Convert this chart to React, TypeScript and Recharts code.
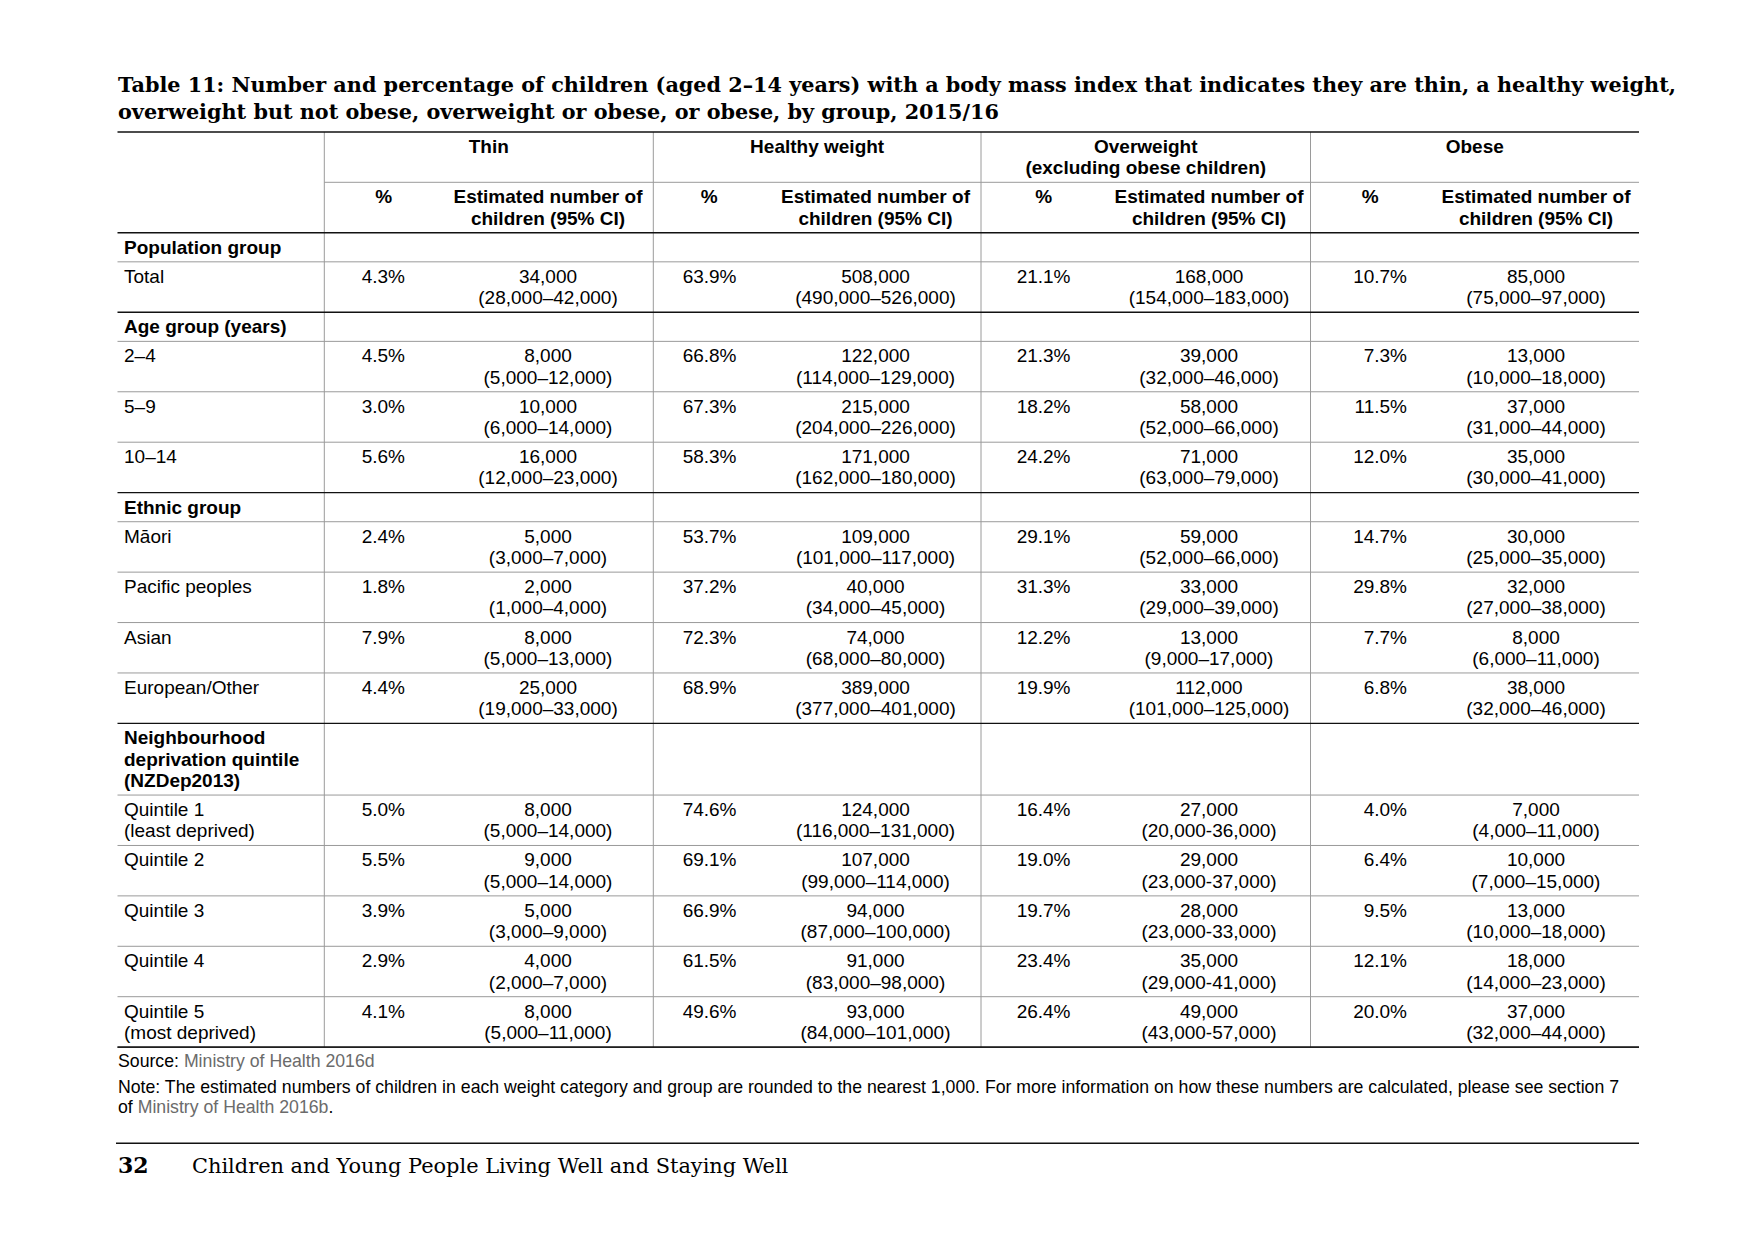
import React from 'react';
import { Surface, Layer } from 'recharts';

// ---------- data ----------
const titleLines = [
  'Table 11: Number and percentage of children (aged 2–14 years) with a body mass index that indicates they are thin, a healthy weight,',
  'overweight but not obese, overweight or obese, or obese, by group, 2015/16',
];
const groupLabels = [['Thin'], ['Healthy weight'], ['Overweight', '(excluding obese children)'], ['Obese']];
const subHeaders = [['%'], ['Estimated number of', 'children (95% CI)']];

const sections = [
  { label: ['Population group'], rows: ['Total'] },
  { label: ['Age group (years)'], rows: ['2–4', '5–9', '10–14'] },
  { label: ['Ethnic group'], rows: ['Māori', 'Pacific peoples', 'Asian', 'European/Other'] },
  {
    label: ['Neighbourhood', 'deprivation quintile', '(NZDep2013)'],
    rows: ['Quintile 1\n(least deprived)', 'Quintile 2', 'Quintile 3', 'Quintile 4', 'Quintile 5\n(most deprived)'],
  },
];

const thinPct = ['4.3%', '4.5%', '3.0%', '5.6%', '2.4%', '1.8%', '7.9%', '4.4%', '5.0%', '5.5%', '3.9%', '2.9%', '4.1%'];
const thinNum = ['34,000', '8,000', '10,000', '16,000', '5,000', '2,000', '8,000', '25,000', '8,000', '9,000', '5,000', '4,000', '8,000'];
const thinCI = ['(28,000–42,000)', '(5,000–12,000)', '(6,000–14,000)', '(12,000–23,000)', '(3,000–7,000)', '(1,000–4,000)', '(5,000–13,000)', '(19,000–33,000)', '(5,000–14,000)', '(5,000–14,000)', '(3,000–9,000)', '(2,000–7,000)', '(5,000–11,000)'];

const healthyPct = ['63.9%', '66.8%', '67.3%', '58.3%', '53.7%', '37.2%', '72.3%', '68.9%', '74.6%', '69.1%', '66.9%', '61.5%', '49.6%'];
const healthyNum = ['508,000', '122,000', '215,000', '171,000', '109,000', '40,000', '74,000', '389,000', '124,000', '107,000', '94,000', '91,000', '93,000'];
const healthyCI = ['(490,000–526,000)', '(114,000–129,000)', '(204,000–226,000)', '(162,000–180,000)', '(101,000–117,000)', '(34,000–45,000)', '(68,000–80,000)', '(377,000–401,000)', '(116,000–131,000)', '(99,000–114,000)', '(87,000–100,000)', '(83,000–98,000)', '(84,000–101,000)'];

const overPct = ['21.1%', '21.3%', '18.2%', '24.2%', '29.1%', '31.3%', '12.2%', '19.9%', '16.4%', '19.0%', '19.7%', '23.4%', '26.4%'];
const overNum = ['168,000', '39,000', '58,000', '71,000', '59,000', '33,000', '13,000', '112,000', '27,000', '29,000', '28,000', '35,000', '49,000'];
const overCI = ['(154,000–183,000)', '(32,000–46,000)', '(52,000–66,000)', '(63,000–79,000)', '(52,000–66,000)', '(29,000–39,000)', '(9,000–17,000)', '(101,000–125,000)', '(20,000-36,000)', '(23,000-37,000)', '(23,000-33,000)', '(29,000-41,000)', '(43,000-57,000)'];

const obesePct = ['10.7%', '7.3%', '11.5%', '12.0%', '14.7%', '29.8%', '7.7%', '6.8%', '4.0%', '6.4%', '9.5%', '12.1%', '20.0%'];
const obeseNum = ['85,000', '13,000', '37,000', '35,000', '30,000', '32,000', '8,000', '38,000', '7,000', '10,000', '13,000', '18,000', '37,000'];
const obeseCI = ['(75,000–97,000)', '(10,000–18,000)', '(31,000–44,000)', '(30,000–41,000)', '(25,000–35,000)', '(27,000–38,000)', '(6,000–11,000)', '(32,000–46,000)', '(4,000–11,000)', '(7,000–15,000)', '(10,000–18,000)', '(14,000–23,000)', '(32,000–44,000)'];

const sourceLabel = 'Source: ';
const sourceRef = 'Ministry of Health 2016d';
const noteLine1 = 'Note: The estimated numbers of children in each weight category and group are rounded to the nearest 1,000. For more information on how these numbers are calculated, please see section 7';
const noteLine2Ref = 'Ministry of Health 2016b';
const pageNumber = '32';
const pageTitle = 'Children and Young People Living Well and Staying Well';

// ---------- layout ----------
const W = 1754;
const H = 1241;
const LEFT = 117.5;
const RIGHT = 1639;
const GROUP_X = [324.3, 653.3, 981, 1310.5];
const PCT_RIGHT = [405, 736.5, 1070.5, 1407];
const PCT_HEAD = [383.7, 709.2, 1043.7, 1370.3];
const NUM_CENTER = [548, 875.5, 1209, 1536];
const TOP = 132;
const SUB_Y = 182.3;
const HEAD_BOTTOM = 232.7;
const ROW_A = 7.85;
const ROW_B = 21.28;
const FIRST_BASE = 21;
const SANS = '"Liberation Sans", Arial, sans-serif';
const SERIF = '"DejaVu Serif", serif';
const FS = 19;
const GRID = '#9a9a9a';
const DARK = '#111';

const series = [
  [thinPct, thinNum, thinCI],
  [healthyPct, healthyNum, healthyCI],
  [overPct, overNum, overCI],
  [obesePct, obeseNum, obeseCI],
];

type TProps = { x: number; y: number; anchor?: 'start' | 'middle' | 'end'; bold?: boolean; children: React.ReactNode; size?: number; fill?: string; family?: string };
const T = ({ x, y, anchor = 'start', bold = false, children, size = FS, fill = '#000', family = SANS }: TProps) => (
  <text x={x} y={y} textAnchor={anchor} fontFamily={family} fontSize={size} fontWeight={bold ? 700 : 400} fill={fill}>
    {children}
  </text>
);

const HLine = ({ y, x1 = LEFT, x2 = RIGHT, dark = false }: { y: number; x1?: number; x2?: number; dark?: boolean }) => (
  <line x1={x1} x2={x2} y1={y} y2={y} stroke={dark ? DARK : GRID} strokeWidth={dark ? 1.4 : 1} />
);

function buildRows() {
  const out: React.ReactNode[] = [];
  let y = HEAD_BOTTOM;
  let idx = 0;
  sections.forEach((sec, si) => {
    const h = ROW_A + ROW_B * sec.label.length;
    sec.label.forEach((l, li) => (
      out.push(<T key={`s${si}-${li}`} x={124} y={y + FIRST_BASE + li * ROW_B} bold>{l}</T>)
    ));
    y += h;
    out.push(<HLine key={`sl${si}`} y={y} />);
    sec.rows.forEach((r, ri) => {
      const labelLines = r.split('\n');
      const rh = ROW_A + ROW_B * 2;
      labelLines.forEach((l, li) => out.push(
        <T key={`r${idx}-${li}`} x={124} y={y + FIRST_BASE + li * ROW_B}>{l}</T>
      ));
      series.forEach(([pct, num, ci], gi) => {
        out.push(<T key={`p${idx}-${gi}`} x={PCT_RIGHT[gi]} y={y + FIRST_BASE} anchor="end">{pct[idx]}</T>);
        out.push(<T key={`n${idx}-${gi}`} x={NUM_CENTER[gi]} y={y + FIRST_BASE} anchor="middle">{num[idx]}</T>);
        out.push(<T key={`c${idx}-${gi}`} x={NUM_CENTER[gi]} y={y + FIRST_BASE + ROW_B} anchor="middle">{ci[idx]}</T>);
      });
      y += rh;
      const lastInSection = ri === sec.rows.length - 1;
      out.push(<HLine key={`rl${idx}`} y={y} dark={lastInSection} />);
      idx += 1;
    });
  });
  return { nodes: out, bottom: y };
}

export default function App() {
  const { nodes, bottom } = buildRows();
  return (
    <div style={{ position: 'absolute', left: 0, top: 0, width: W, height: H, background: '#fff' }}>
      <Surface width={W} height={H}>
        <Layer>
          <rect x={0} y={0} width={W} height={H} fill="#fff" />
          {titleLines.map((t, i) => (
            <T key={`t${i}`} x={118} y={91.5 + i * 27} bold size={20.75} family={SERIF}>{t}</T>
          ))}
          {/* vertical group dividers */}
          {GROUP_X.map((x, i) => (
            <line key={`v${i}`} x1={x} x2={x} y1={TOP} y2={bottom} stroke={GRID} strokeWidth={1} />
          ))}
          {/* header */}
          {groupLabels.map((g, gi) => {
            const x0 = GROUP_X[gi];
            const x1 = gi < 3 ? GROUP_X[gi + 1] : RIGHT;
            return g.map((l, li) => (
              <T key={`g${gi}-${li}`} x={(x0 + x1) / 2} y={TOP + FIRST_BASE + li * ROW_B} anchor="middle" bold>{l}</T>
            ));
          })}
          <HLine y={SUB_Y} x1={GROUP_X[0]} />
          {GROUP_X.map((_, gi) => (
            <Layer key={`sh${gi}`}>
              <T x={PCT_HEAD[gi]} y={SUB_Y + FIRST_BASE} anchor="middle" bold>{subHeaders[0][0]}</T>
              {subHeaders[1].map((l, li) => (
                <T key={li} x={NUM_CENTER[gi]} y={SUB_Y + FIRST_BASE + li * ROW_B} anchor="middle" bold>{l}</T>
              ))}
            </Layer>
          ))}
          <HLine y={TOP} dark />
          <HLine y={HEAD_BOTTOM} dark />
          {nodes}
          <HLine y={bottom} dark />
          {/* source and note */}
          <text x={118} y={1067} fontFamily={SANS} fontSize={17.7} fill="#000">
            {sourceLabel}
            <tspan fill="#6b6b6b">{sourceRef}</tspan>
          </text>
          <T x={118} y={1093} size={17.7}>{noteLine1}</T>
          <text x={118} y={1112.5} fontFamily={SANS} fontSize={17.7} fill="#000">
            {'of '}
            <tspan fill="#6b6b6b">{noteLine2Ref}</tspan>
            {'.'}
          </text>
          {/* page footer */}
          <HLine y={1143.3} x1={116} dark />
          <T x={118} y={1173} bold size={22} family={SERIF}>{pageNumber}</T>
          <T x={192} y={1173} size={20.9} family={SERIF}>{pageTitle}</T>
        </Layer>
      </Surface>
    </div>
  );
}
